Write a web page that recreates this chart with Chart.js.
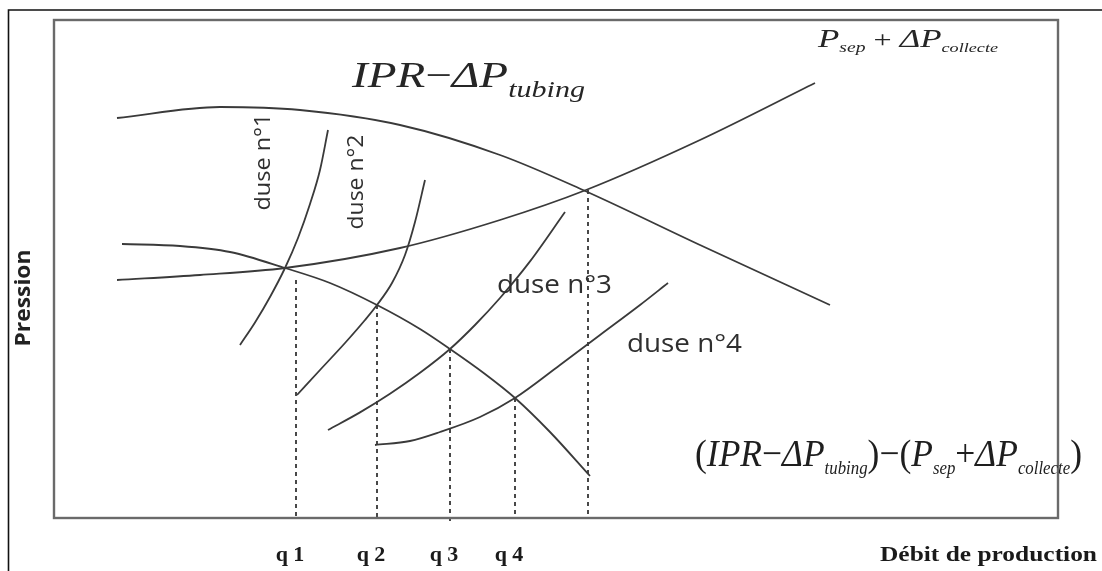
<!DOCTYPE html>
<html>
<head>
<meta charset="utf-8">
<script src="https://cdn.jsdelivr.net/npm/chart.js@4"></script>
<style>
  html, body { margin: 0; padding: 0; background: #ffffff; }
  #wrap { width: 1102px; height: 571px; position: relative; }
  canvas { display: block; }
</style>
</head>
<body>
<div id="wrap"><canvas id="c" width="1102" height="571"></canvas></div>
<script>
// Débit (x) and pression (y) in arbitrary units; x spans 0..1004, y spans 0..498.

// IPR − ΔP tubing
const iprX = [63, 166, 246, 346, 446, 529, 646, 776];
const iprY = [400, 411, 408, 393, 363, 328, 273, 213];

// P sep + ΔP collecte
const sepX = [63, 146, 231, 346, 446, 532, 646, 761];
const sepY = [238, 243, 250, 270, 298, 328, 378, 435];

// (IPR − ΔP tubing) − (P sep + ΔP collecte)
const diffX = [68, 126, 176, 231, 276, 323, 366, 396, 431, 461, 496, 536];
const diffY = [274, 272, 266, 250, 235, 213, 189, 169, 144, 120, 86, 42];

// Duse curves
const duse1X = [186, 201, 216, 231, 244, 256, 266, 274];
const duse1Y = [173, 195.5, 221, 250, 280, 314, 348, 388];
const duse2X = [243, 266, 291, 311, 323, 338, 351, 361, 371];
const duse2Y = [123, 148, 175, 198, 213, 235, 263, 296, 338];
const duse3X = [274, 306, 336, 366, 396, 421, 446, 476, 511];
const duse3Y = [88, 105.6, 124.2, 145.2, 169, 193, 220, 256.6, 306];
const duse4X = [321, 356, 386, 426, 461, 506, 546, 586, 614];
const duse4Y = [73, 77, 86, 101, 120, 153, 183, 213, 235];

// Operating points q1..q4 and the maximum flow point
const qLabels = ['q 1', 'q 2', 'q 3', 'q 4'];
const qX = [242, 323, 396, 461, 534];
const qY = [238, 213, 169, 120, 328];
const qBottom = [0, 0, -7, 0, 0];

const pts = (xs, ys) => xs.map((x, i) => ({ x, y: ys[i] }));

const curveColor = '#3a3a3a';
const curve = (label, xs, ys) => ({
  label,
  data: pts(xs, ys),
  showLine: true,
  borderColor: curveColor,
  borderWidth: 1.8,
  pointRadius: 0,
  cubicInterpolationMode: 'monotone',
  fill: false
});

const datasets = [
  curve('IPR − ΔP tubing', iprX, iprY),
  curve('P sep + ΔP collecte', sepX, sepY),
  curve('(IPR − ΔP tubing) − (P sep + ΔP collecte)', diffX, diffY),
  curve('duse n°1', duse1X, duse1Y),
  curve('duse n°2', duse2X, duse2Y),
  curve('duse n°3', duse3X, duse3Y),
  curve('duse n°4', duse4X, duse4Y)
];

qX.forEach((x, i) => {
  datasets.push({
    label: 'drop ' + i,
    data: [{ x, y: qY[i] }, { x, y: qBottom[i] }],
    showLine: true,
    borderColor: '#2a2a2a',
    borderWidth: 1.7,
    borderDash: [4, 4],
    pointRadius: 0,
    clip: false
  });
});

// Draw a run of text pieces with their own fonts and baseline shifts,
// optionally squeezed/stretched to a given overall width.
function drawRich(ctx, parts, opt) {
  ctx.save();
  let total = 0;
  const widths = parts.map(p => { ctx.font = p.font; const w = ctx.measureText(p.t).width; total += w; return w; });
  const sx = opt.width ? opt.width / total : 1;
  ctx.translate(opt.x, opt.y);
  if (opt.rotate) ctx.rotate(opt.rotate);
  ctx.scale(sx, 1);
  let cx = opt.center ? -total / 2 : 0;
  ctx.fillStyle = opt.color || '#222';
  ctx.textBaseline = opt.baseline || 'alphabetic';
  ctx.textAlign = 'left';
  parts.forEach((p, i) => {
    ctx.font = p.font;
    ctx.fillText(p.t, cx, p.dy || 0);
    cx += widths[i];
  });
  ctx.restore();
}

const serifI = s => 'italic ' + s + 'px "Liberation Serif", "DejaVu Serif", serif';
const serifN = s => s + 'px "Liberation Serif", "DejaVu Serif", serif';
const serifB = s => 'bold ' + s + 'px "Liberation Serif", "DejaVu Serif", serif';
const sans = s => s + 'px "Open Sans", "Liberation Sans", sans-serif';
const sansB = s => 'bold ' + s + 'px "Open Sans", "Liberation Sans", sans-serif';

const decor = {
  id: 'decor',
  beforeDraw(chart) {
    const ctx = chart.ctx;
    ctx.save();
    ctx.fillStyle = '#ffffff';
    ctx.fillRect(0, 0, chart.width, chart.height);
    // outer frame (top and left edges)
    ctx.strokeStyle = '#111';
    ctx.lineWidth = 1.6;
    ctx.beginPath();
    ctx.moveTo(chart.width, 10);
    ctx.lineTo(8.5, 10);
    ctx.lineTo(8.5, chart.height);
    ctx.stroke();
    ctx.restore();
  },
  afterDraw(chart) {
    const ctx = chart.ctx;
    const a = chart.chartArea;
    const xs = chart.scales.x;
    ctx.save();
    // plot box
    ctx.strokeStyle = '#6a6a6a';
    ctx.lineWidth = 2.4;
    ctx.strokeRect(a.left, a.top, a.right - a.left, a.bottom - a.top);
    ctx.restore();

    const txt = '#262626';
    // IPR − ΔP tubing
    drawRich(ctx, [
      { t: 'IPR', font: serifI(36) },
      { t: '−', font: serifN(36) },
      { t: 'ΔP', font: serifI(36) },
      { t: 'tubing', font: serifI(23), dy: 10 }
    ], { x: 352, y: 87, width: 233, color: txt });

    // P sep + ΔP collecte
    drawRich(ctx, [
      { t: 'P', font: serifI(25) },
      { t: 'sep', font: serifI(14), dy: 5 },
      { t: ' + ', font: serifN(23) },
      { t: 'ΔP', font: serifI(25) },
      { t: 'collecte', font: serifI(13), dy: 5 }
    ], { x: 818, y: 47, width: 180, color: txt });

    // (IPR − ΔP tubing) − (P sep + ΔP collecte)
    drawRich(ctx, [
      { t: '(', font: serifN(38) },
      { t: 'IPR', font: serifI(38) },
      { t: '−', font: serifN(38) },
      { t: 'ΔP', font: serifI(38) },
      { t: 'tubing', font: serifI(18), dy: 8 },
      { t: ')−(', font: serifN(38) },
      { t: 'P', font: serifI(38) },
      { t: 'sep', font: serifI(18), dy: 8 },
      { t: '+', font: serifN(38) },
      { t: 'ΔP', font: serifI(38) },
      { t: 'collecte', font: serifI(18), dy: 8 },
      { t: ')', font: serifN(38) }
    ], { x: 695, y: 466, width: 387, color: '#1e1e1e' });

    // duse labels
    const duseColor = '#2f2f2f';
    drawRich(ctx, [{ t: 'duse n°1', font: sans(22) }],
      { x: 264, y: 162, rotate: -Math.PI / 2, center: true, baseline: 'middle', width: 97, color: duseColor });
    drawRich(ctx, [{ t: 'duse n°2', font: sans(22) }],
      { x: 357, y: 182, rotate: -Math.PI / 2, center: true, baseline: 'middle', width: 95, color: duseColor });
    drawRich(ctx, [{ t: 'duse n°3', font: sans(25) }],
      { x: 497, y: 293, width: 115, color: duseColor });
    drawRich(ctx, [{ t: 'duse n°4', font: sans(25) }],
      { x: 627, y: 352, width: 115, color: duseColor });

    // axis titles
    drawRich(ctx, [{ t: 'Pression', font: sansB(21) }],
      { x: 24, y: 298, rotate: -Math.PI / 2, center: true, baseline: 'middle', width: 97, color: '#222' });
    drawRich(ctx, [{ t: 'Débit de production', font: serifB(22) }],
      { x: 880, y: 561, width: 217, color: '#1a1a1a' });

    // q labels under the operating points
    qLabels.forEach((l, i) => {
      drawRich(ctx, [{ t: l, font: serifB(22) }],
        { x: xs.getPixelForValue(qX[i]) - 6, y: 561, center: true, color: '#1a1a1a' });
    });
  }
};

new Chart(document.getElementById('c'), {
  type: 'scatter',
  data: { datasets },
  options: {
    responsive: false,
    animation: false,
    events: [],
    layout: { padding: { left: 54, right: 44, top: 20, bottom: 53 } },
    plugins: { legend: { display: false }, tooltip: { enabled: false }, title: { display: false } },
    scales: {
      x: { type: 'linear', min: 0, max: 1004, display: false },
      y: { type: 'linear', min: 0, max: 498, display: false }
    }
  },
  plugins: [decor]
});
</script>
</body>
</html>
